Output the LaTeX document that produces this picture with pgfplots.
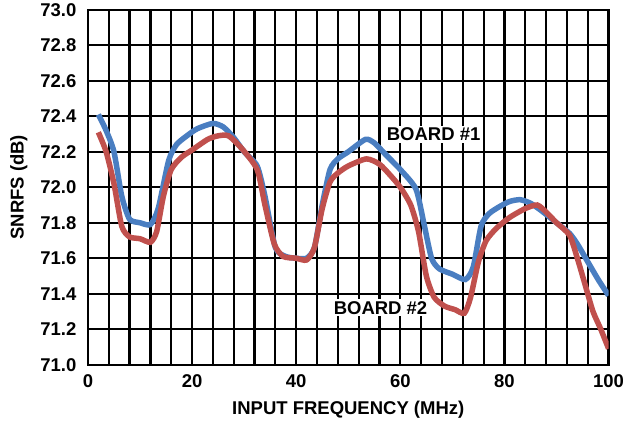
\documentclass[border=0pt]{standalone}
\usepackage{pgfplots}
\pgfplotsset{compat=1.18}
\usepackage{fontspec}
\setmainfont{Liberation Sans}
\definecolor{boardone}{HTML}{4A7EC1}
\definecolor{boardtwo}{HTML}{C0504D}

\begin{document}
\begin{tikzpicture}
\begin{axis}[
    scale only axis,
    width=521pt, height=355pt,
    xmin=0, xmax=100,
    ymin=71, ymax=73,
    xtick={0,20,40,60,80,100},
    minor xtick={4,8,12,16,24,28,32,36,44,48,52,56,64,68,72,76,84,88,92,96},
    ytick={71,71.2,71.4,71.6,71.8,72,72.2,72.4,72.6,72.8,73},
    xmajorgrids=true, xminorgrids=true, ymajorgrids=true,
    grid style={black, line width=2.2pt},
    minor grid style={black, line width=2.2pt},
    axis line style={black, line width=2.2pt},
    major tick length=0pt, minor tick length=0pt,
    /pgf/number format/assume math mode=true,
    xticklabel={\bfseries\pgfmathprintnumber{\tick}},
    yticklabel={\bfseries\pgfmathprintnumber[fixed,fixed zerofill,precision=1]{\tick}},
    ticklabel style={font=\fontsize{18.5}{21}\selectfont\bfseries},
    xticklabel style={yshift=-6pt, inner xsep=0pt},
    yticklabel style={xshift=-8pt},
    xlabel={INPUT FREQUENCY (MHz)},
    ylabel={SNRFS (dB)},
    label style={font=\fontsize{18.5}{21}\selectfont\bfseries},
    xlabel style={yshift=-7pt},
    ylabel style={yshift=6pt},
]

% board #1
\addplot[boardone, line width=5.5pt, smooth, tension=0.4] coordinates {
(2,72.41) (3.5,72.32) (5,72.2) (6.5,71.95) (8,71.82) (10,71.80) (12,71.79)
(13.5,71.88) (15.5,72.15) (17,72.24) (19,72.29) (21,72.33) (24,72.36)
(26,72.34) (28,72.28) (30,72.2) (32.5,72.12) (34,71.95) (36,71.66)
(38,71.61) (40,71.60) (42,71.60) (43.5,71.66) (45,71.9) (46.5,72.1)
(48,72.16) (50,72.2) (53.3,72.27) (55,72.25) (57,72.19) (60,72.1)
(63,71.99) (64.5,71.8) (66,71.6) (67.5,71.54) (70,71.51) (72.5,71.48)
(74,71.55) (75.5,71.78) (77,71.85) (79,71.89) (81,71.92) (83,71.93)
(85,71.91) (87,71.87) (90,71.8) (92.5,71.74) (94,71.68) (96,71.58)
(98,71.48) (100,71.39)
};

% board #2
\addplot[boardtwo, line width=5.5pt, smooth, tension=0.4] coordinates {
(2,72.31) (3.5,72.2) (5,72.02) (6.5,71.78) (8,71.72) (10,71.71) (12,71.69)
(13.2,71.75) (14.5,71.95) (16,72.1) (18,72.17) (20,72.21) (23,72.27)
(25,72.29) (27,72.29) (29.5,72.22) (32.5,72.1) (34,71.9) (35.8,71.68)
(37.5,71.61) (40,71.6) (42,71.59) (43.5,71.66) (45,71.88) (46.5,72.03)
(48,72.08) (50,72.12) (53.5,72.16) (56,72.13) (58,72.07) (60,72.0)
(62,71.9) (63.5,71.75) (65,71.5) (66.5,71.38) (68.5,71.33) (70.5,71.31)
(72.3,71.29) (73.5,71.38) (75,71.58) (76.5,71.7) (78.5,71.77) (81,71.83)
(84,71.88) (86.3,71.9) (88,71.86) (90,71.8) (92.5,71.73) (94,71.6)
(95.5,71.45) (97,71.3) (98.5,71.2) (100,71.09)
};

\node[fill=white, inner sep=2pt, font=\fontsize{18.5}{21}\selectfont\bfseries] at (axis cs:66.4,72.30) {BOARD \#1};
\node[fill=white, inner sep=2pt, font=\fontsize{18.5}{21}\selectfont\bfseries] at (axis cs:56.2,71.32) {BOARD \#2};
\end{axis}
% margins as in the reference
\path (current bounding box.west) ++(-7pt,0);
\path (current bounding box.south) ++(0,-8pt);
\end{tikzpicture}
\end{document}
